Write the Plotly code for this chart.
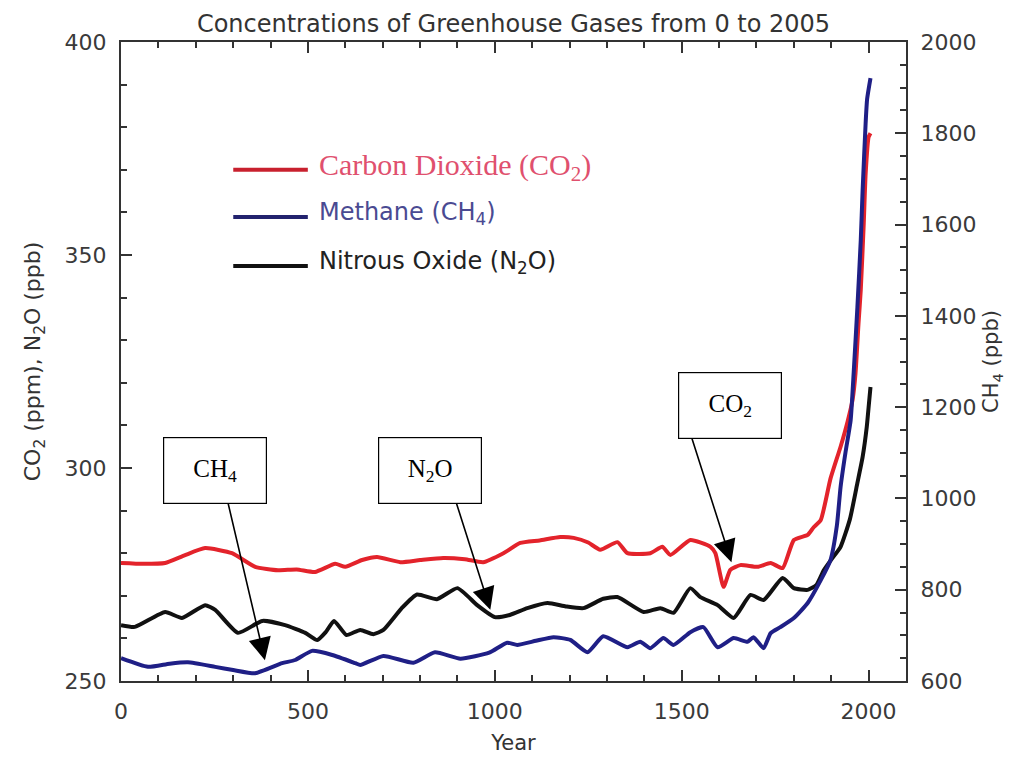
import plotly.graph_objects as go

# ---------------- data ----------------
co2_year = [0, 60, 118, 170, 225, 297, 359, 420, 470, 519, 573, 600, 645, 685, 747, 800,
            862, 920, 969, 1023, 1068, 1120, 1175, 1211, 1250, 1282, 1328, 1355, 1416, 1448,
            1470, 1523, 1577, 1590, 1612, 1630, 1657, 1703, 1738, 1770, 1800, 1837, 1853,
            1872, 1898, 1925, 1944, 1957, 1965, 1973, 1979, 1987, 1992, 2000, 2005]
co2_ppm = [277.7, 277.5, 277.7, 279.5, 281.2, 280.0, 276.8, 276.0, 276.2, 275.6, 277.5, 276.8,
           278.4, 279.1, 277.9, 278.4, 278.9, 278.6, 277.9, 280.0, 282.4, 283.0, 283.8, 283.6,
           282.5, 280.8, 282.6, 280.0, 280.0, 281.5, 279.6, 283.1, 281.5, 280.0, 272.1, 276.1,
           277.2, 276.8, 277.7, 276.5, 283.1, 284.3, 286.1, 287.8, 297.5, 305.0, 311.0, 316.0,
           322.3, 334.0, 341.8, 357.5, 369.0, 377.7, 378.6]

ch4_year = [0, 72, 130, 179, 252, 300, 359, 431, 466, 511, 565, 627, 640, 702, 782, 840,
            908, 985, 1033, 1060, 1110, 1157, 1202, 1248, 1290, 1355, 1389, 1416, 1451, 1478,
            1523, 1558, 1596, 1639, 1676, 1692, 1719, 1738, 1764, 1800, 1837, 1872, 1898, 1915,
            1925, 1938, 1952, 1960, 1970, 1979, 1984, 1992, 1996, 2005]
ch4_ppb = [650, 631, 638, 641, 631, 624, 617, 639, 646, 666, 657, 639, 635, 655, 640, 663,
           649, 662, 684, 679, 688, 696, 690, 663, 698, 674, 686, 672, 694, 679,
           707, 718, 674, 694, 686, 696, 672, 705, 718, 738, 771, 821, 865, 940,
           1025, 1100, 1172, 1275, 1419, 1566, 1676, 1822, 1875, 1921]

n2o_year = [0, 37, 118, 163, 225, 252, 313, 378, 439, 493, 525, 548, 570, 603, 640, 675,
            702, 750, 792, 845, 900, 953, 1000, 1040, 1087, 1141, 1190, 1237, 1290, 1328,
            1398, 1443, 1478, 1523, 1550, 1596, 1639, 1684, 1719, 1770, 1800, 1837, 1860,
            1880, 1900, 1925, 1950, 1970, 1984, 1995, 2000, 2005]
n2o_ppb = [263.1, 262.7, 266.2, 264.8, 267.8, 266.7, 261.3, 264.1, 263.1, 261.3, 259.6, 261.5,
           264.1, 260.8, 262.0, 261.0, 262.0, 267.0, 270.3, 269.2, 271.8, 267.8, 265.0, 265.5,
           267.1, 268.3, 267.5, 267.1, 269.3, 269.7, 266.2, 267.1, 266.0, 271.8, 269.7, 267.8,
           264.8, 270.2, 269.0, 274.2, 271.8, 271.4, 272.5, 276.0, 278.5, 281.5, 288.0, 296.5,
           302.6, 309.6, 314.3, 319.0]

series_names = ["Carbon Dioxide (CO<sub>2</sub>)", "Methane (CH<sub>4</sub>)",
                "Nitrous Oxide (N<sub>2</sub>O)"]
box_labels = ["CH<sub>4</sub>", "N<sub>2</sub>O", "CO<sub>2</sub>"]
# (tail year, tail value, tip year, tip value) for the call-out arrows (left-axis units)
arrow_tail_year = [270, 875, 1505]
arrow_tail_val = [297.9, 297.9, 313.1]
arrow_tip_year = [385, 988, 1633]
arrow_tip_val = [254.9, 266.7, 277.9]
box_year = [252, 827, 1630]
box_val = [299.3, 299.3, 314.6]

RED = "#e3232b"
BLUE = "#1f1f86"
BLACK = "#111111"
AX = "#333333"

fig = go.Figure()
fig.add_trace(go.Scatter(x=co2_year, y=co2_ppm, mode="lines", name="CO2",
                         line=dict(color=RED, width=4, shape="spline", smoothing=0.5),
                         showlegend=False))
fig.add_trace(go.Scatter(x=n2o_year, y=n2o_ppb, mode="lines", name="N2O",
                         line=dict(color=BLACK, width=4, shape="spline", smoothing=0.5),
                         showlegend=False))
fig.add_trace(go.Scatter(x=ch4_year, y=ch4_ppb, mode="lines", name="CH4", yaxis="y2",
                         line=dict(color=BLUE, width=4, shape="spline", smoothing=0.5),
                         showlegend=False))

axis_common = dict(showgrid=False, zeroline=False, showline=True, linecolor=AX, linewidth=2,
                   ticks="inside", ticklen=11, tickwidth=1.5, tickcolor=AX,
                   tickfont=dict(family="DejaVu Sans", size=22, color="#3a3a3a"))

fig.update_layout(
    width=1021, height=760,
    margin=dict(l=113, r=123, t=34, b=87),
    paper_bgcolor="white", plot_bgcolor="white",
    font=dict(family="DejaVu Sans", color="#333"),
    title=dict(text="Concentrations of Greenhouse Gases from 0 to 2005",
               x=0.5, xref="paper", xanchor="center", y=1 - 16 / 760, yref="container",
               yanchor="middle", font=dict(family="DejaVu Sans", size=24, color="#333")),
    xaxis=dict(range=[0, 2100], tickmode="linear", tick0=0, dtick=500,
               mirror="ticks", ticklabelstandoff=10,
               minor=dict(dtick=100, ticklen=6, tickwidth=1.5, tickcolor=AX, ticks="inside"),
               title=dict(text="Year", standoff=12,
                          font=dict(family="DejaVu Sans", size=21, color="#333")),
               **axis_common),
    yaxis=dict(range=[250, 400], tickmode="linear", tick0=250, dtick=50,
               ticklabelstandoff=8,
               minor=dict(dtick=10, ticklen=6, tickwidth=1.5, tickcolor=AX, ticks="inside"),
               title=dict(text="CO<sub>2</sub> (ppm), N<sub>2</sub>O (ppb)", standoff=18,
                          font=dict(family="DejaVu Sans", size=22, color="#333")),
               **axis_common),
    yaxis2=dict(range=[600, 2000], tickmode="linear", tick0=600, dtick=200,
                overlaying="y", side="right", ticklabelstandoff=8,
                minor=dict(dtick=50, ticklen=6, tickwidth=1.5, tickcolor=AX, ticks="inside"),
                title=dict(text="CH<sub>4</sub> (ppb)", standoff=8,
                           font=dict(family="DejaVu Sans", size=21, color="#333")),
                **axis_common),
)

# legend drawn inside the plot, like the original
leg_y = [0.80, 0.726, 0.6495]
leg_colors = ["#c8202e", "#22226e", "#111111"]
leg_text_colors = ["#e0506e", "#4a4a92", "#222222"]
leg_fonts = [dict(family="Liberation Serif", size=30), dict(family="DejaVu Sans", size=24),
             dict(family="DejaVu Sans", size=24)]
for yy, lc, tc, lf, nm in zip(leg_y, leg_colors, leg_text_colors, leg_fonts, series_names):
    fig.add_shape(type="line", xref="paper", yref="paper", x0=0.143, x1=0.238, y0=yy, y1=yy,
                  line=dict(color=lc, width=4))
    fig.add_annotation(xref="paper", yref="paper", x=0.250, y=yy + 0.005, xanchor="left",
                       yanchor="middle", text=nm, showarrow=False,
                       font=dict(color=tc, **lf))

# call-out arrows
for tx, ty, hx, hy in zip(arrow_tail_year, arrow_tail_val, arrow_tip_year, arrow_tip_val):
    fig.add_annotation(xref="x", yref="y", axref="x", ayref="y", x=hx, y=hy, ax=tx, ay=ty,
                       text="", showarrow=True, arrowhead=2, arrowsize=2.8, arrowwidth=1.6,
                       arrowcolor="black", standoff=0, startstandoff=0)

# call-out boxes
for bx, by, bl in zip(box_year, box_val, box_labels):
    fig.add_annotation(xref="x", yref="y", x=bx, y=by, text=bl, showarrow=False,
                       width=102, height=65, bordercolor="black", borderwidth=1.2,
                       borderpad=0, bgcolor="white", align="center", valign="middle",
                       font=dict(family="Liberation Serif", size=25, color="black"))

fig.write_html("out.html")
